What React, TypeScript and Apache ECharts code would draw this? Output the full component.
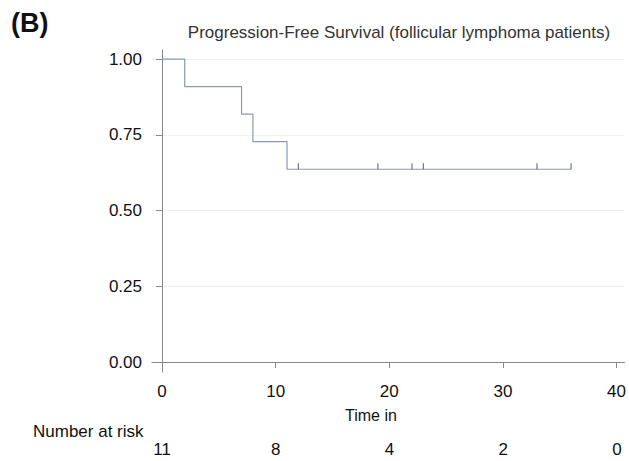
import React, { useEffect, useRef } from "react";
import * as echarts from "echarts";

const stepTimes = [0, 2, 7, 8, 11, 36];
const stepSurvival = [1.0, 0.9091, 0.8182, 0.7273, 0.6364, 0.6364];
const censorTimes = [12, 19, 22, 23, 33, 36];
const censorSurvival = [0.6364, 0.6364, 0.6364, 0.6364, 0.6364, 0.6364];
const xTicks = [0, 10, 20, 30, 40];
const yTicks = [0, 0.25, 0.5, 0.75, 1.0];
const riskTimes = [0, 10, 20, 30, 40];
const riskCounts = [11, 8, 4, 2, 0];

const FONT = "Liberation Sans, Arial, Helvetica, sans-serif";

export default function App() {
  const ref = useRef<HTMLDivElement>(null);
  useEffect(() => {
    const chart = echarts.init(ref.current!, null, { renderer: "svg" });
    const X_MIN = -0.88;
    const X_MAX = 40.7;
    chart.setOption({
      animation: false,
      backgroundColor: "#ffffff",
      title: {
        text: "Progression-Free Survival (follicular lymphoma patients)",
        left: 394,
        top: 19,
        textAlign: "center",
        textStyle: { fontFamily: FONT, fontSize: 17, fontWeight: "normal", color: "#333333" },
      },
      graphic: [
        {
          type: "text",
          left: 11,
          top: 9,
          style: { text: "(B)", fontFamily: FONT, fontSize: 27, fontWeight: "bold", fill: "#111111" },
        },
        {
          type: "text",
          left: 33,
          top: 423,
          style: { text: "Number at risk", fontFamily: FONT, fontSize: 17, fill: "#111111" },
        },
        {
          type: "text",
          left: 345,
          top: 407,
          style: { text: "Time in", fontFamily: FONT, fontSize: 16, fill: "#111111" },
        },
      ],
      grid: [
        { left: 152, right: 4, top: 50, bottom: 89 },
        { left: 152, right: 4, top: 440, height: 1 },
      ],
      xAxis: [
        {
          type: "value",
          gridIndex: 0,
          min: X_MIN,
          max: X_MAX,
          axisLine: { show: true, lineStyle: { color: "#888888", width: 1 } },
          axisTick: { show: true, length: 6, customValues: xTicks, lineStyle: { color: "#888888" } },
          axisLabel: {
            customValues: xTicks,
            fontFamily: FONT,
            fontSize: 17,
            color: "#111111",
            margin: 11,
          },
          splitLine: { show: false },
        },
        {
          type: "value",
          gridIndex: 1,
          min: X_MIN,
          max: X_MAX,
          axisLine: { show: false },
          axisTick: { show: false },
          axisLabel: {
            customValues: riskTimes,
            fontFamily: FONT,
            fontSize: 17,
            color: "#111111",
            margin: 0,
            formatter: (v: number) => {
              const i = riskTimes.indexOf(Math.round(v));
              return i >= 0 ? String(riskCounts[i]) : "";
            },
          },
          splitLine: { show: false },
        },
      ],
      yAxis: [
        {
          type: "value",
          gridIndex: 0,
          min: -0.033,
          max: 1.03,
          axisLine: { show: true, lineStyle: { color: "#888888", width: 1 } },
          axisTick: { show: true, length: 6, customValues: yTicks, lineStyle: { color: "#888888" } },
          axisLabel: {
            customValues: yTicks,
            fontFamily: FONT,
            fontSize: 17,
            color: "#111111",
            margin: 10,
            formatter: (v: number) => v.toFixed(2),
          },
          splitLine: { show: false },
        },
        {
          type: "value",
          gridIndex: 1,
          show: false,
        },
      ],
      series: [
        {
          type: "line",
          xAxisIndex: 0,
          yAxisIndex: 0,
          step: "end",
          symbol: "none",
          data: stepTimes.map((t, i) => [t, stepSurvival[i]]),
          lineStyle: { color: "#8b97b3", width: 1.2 },
          markLine: {
            silent: true,
            symbol: "none",
            label: { show: false },
            lineStyle: { color: "#eef0f4", width: 1, type: "solid" },
            data: yTicks.map((v) => ({ yAxis: v })),
            z: 0,
          },
          z: 3,
        },
        {
          type: "scatter",
          xAxisIndex: 0,
          yAxisIndex: 0,
          symbol: "rect",
          symbolSize: [1.2, 6],
          symbolOffset: [0, -3],
          itemStyle: { color: "#555555" },
          data: censorTimes.map((t, i) => [t, censorSurvival[i]]),
          z: 4,
        },
      ],
    });
    return () => chart.dispose();
  }, []);
  return <div ref={ref} style={{ width: 629, height: 461, position: "absolute", left: 0, top: 0 }} />;
}
